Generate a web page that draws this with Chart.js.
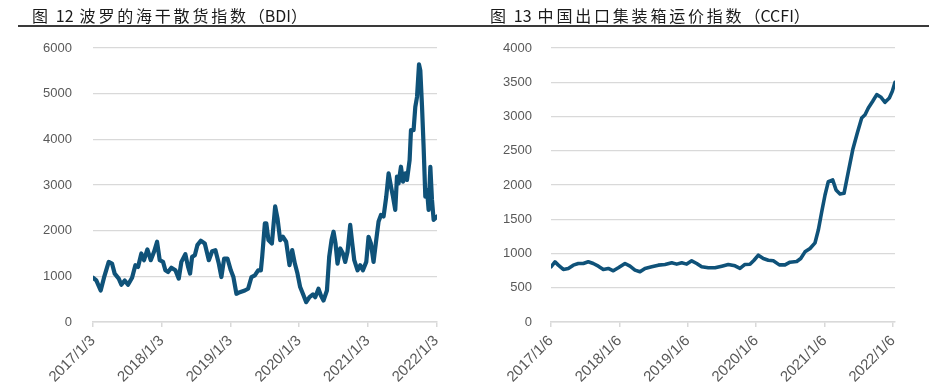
<!DOCTYPE html>
<html><head><meta charset="utf-8">
<script src="https://cdn.jsdelivr.net/npm/chart.js@4.4.0/dist/chart.umd.min.js"></script>
<style>
html,body{margin:0;padding:0;background:#fff;width:929px;height:389px;overflow:hidden;}
.wrap{position:absolute;top:0;height:389px;}
.title{position:absolute;top:3px;font-family:"Noto Sans CJK SC";font-size:16px;color:#1a1a1a;white-space:nowrap;z-index:2;}
.title .cj{letter-spacing:2.8px;}
.title .num{margin:0 6px 0 5px;}
.rule{position:absolute;top:25px;left:18px;width:911px;height:2px;background:#3a3a3a;z-index:2;}
</style></head><body>
<div class="title" style="left:32px"><span class="cj">图</span><span class="num">12</span><span class="cj">波罗的海干散货指数</span>（BDI）</div>
<div class="title" style="left:490px"><span class="cj">图</span><span class="num">13</span><span class="cj">中国出口集装箱运价指数</span>（CCFI）</div>
<div class="rule"></div>
<div class="wrap" style="left:0;width:465px"><canvas id="c1"></canvas></div>
<div class="wrap" style="left:465px;width:464px"><canvas id="c2"></canvas></div>
<script>
// ---- data (x = years elapsed since first tick date) ----
const bdiTickLabels = ["2017/1/3","2018/1/3","2019/1/3","2020/1/3","2021/1/3","2022/1/3"];
const ccfiTickLabels = ["2017/1/6","2018/1/6","2019/1/6","2020/1/6","2021/1/6","2022/1/6"];
const tickYears = [0,1,2,3,4,5];

const bdiYears = [0.000,0.048,0.112,0.160,0.229,0.277,0.316,0.375,0.413,0.462,0.510,0.569,0.617,0.656,0.704,0.743,0.792,0.841,0.889,0.933,0.972,
1.020,1.054,1.093,1.141,1.200,1.249,1.287,1.345,1.385,1.414,1.443,1.483,1.520,1.570,1.628,1.687,1.735,1.783,1.832,1.870,1.910,1.958,
2.007,2.045,2.089,2.138,2.211,2.259,2.308,2.357,2.405,2.445,2.464,2.503,2.524,2.555,2.605,2.653,2.687,2.726,2.765,2.813,2.862,2.901,2.940,2.978,
3.017,3.057,3.105,3.153,3.203,3.236,3.284,3.319,3.357,3.407,3.440,3.474,3.503,3.532,3.561,3.601,3.640,3.673,3.707,3.746,3.776,3.805,3.853,3.892,3.931,3.980,
4.013,4.048,4.086,4.125,4.159,4.194,4.232,4.271,4.305,4.340,4.369,4.402,4.427,4.450,4.485,4.515,4.548,4.573,4.611,4.631,4.669,4.694,4.719,4.748,4.767,4.792,4.815,4.840,4.865,4.888,4.913,4.937,4.961,5.010];
const bdiValues = [970,912,690,970,1316,1280,1060,950,816,910,816,970,1243,1206,1500,1353,1590,1353,1537,1757,1353,
1316,1132,1095,1190,1132,950,1316,1485,1206,1060,1426,1463,1683,1779,1720,1353,1551,1573,1280,985,1390,1390,
1132,985,618,654,690,728,985,1022,1132,1132,1426,2160,2160,1794,1720,2530,2270,1794,1867,1757,1243,1573,1280,1060,
765,618,434,544,603,544,728,581,471,690,1426,1794,1978,1720,1280,1610,1500,1316,1537,2125,1720,1353,1132,1243,1132,1316,
1867,1720,1316,1794,2200,2345,2310,2745,3255,2964,2745,2455,3182,3036,3400,3073,3255,3110,3545,4200,4200,4710,4927,5640,5510,4710,3836,2745,2890,2455,3400,2673,2236,2310];

const ccfiYears = [0.000,0.058,0.107,0.180,0.253,0.326,0.399,0.472,0.545,0.618,0.692,0.765,0.838,0.911,0.984,
1.082,1.155,1.228,1.301,1.374,1.472,1.569,1.667,1.765,1.838,1.911,1.984,
2.057,2.130,2.203,2.300,2.398,2.496,2.592,2.690,2.763,2.836,2.909,2.968,
3.031,3.104,3.177,3.250,3.338,3.421,3.494,3.592,3.651,3.713,3.787,3.860,3.908,3.958,
4.006,4.054,4.118,4.167,4.225,4.284,4.347,4.411,4.478,4.542,4.591,4.639,4.703,4.762,4.820,4.883,4.946,4.990,5.029];
const ccfiValues = [806,879,830,767,782,830,854,854,879,854,815,767,782,748,791,
854,815,757,733,782,806,830,840,864,845,864,845,
893,854,806,791,791,815,840,820,782,840,844,902,
976,927,902,893,834,834,873,883,927,1024,1073,1156,1342,1610,
1854,2050,2074,1928,1869,1879,2196,2514,2758,2978,3026,3124,3222,3319,3285,3207,3270,3368,3500];

const LINE = '#0f5279';
const GRID = '#d9d9d9';
const TXT = '#595959';
const YFONT = {family:'"Liberation Sans", Arial, sans-serif', size:13};
const XFONT = {family:'"Liberation Sans", Arial, sans-serif', size:15};

function makeChart(id, xs, ys, labels, yMax, yStep, yWidth, yPad, padRight, lw){
  new Chart(document.getElementById(id), {
    type:'line',
    data:{datasets:[{data: xs.map((x,i)=>({x:x, y:ys[i]})), borderColor:LINE, borderWidth:lw,
      pointRadius:0, tension:0, fill:false, borderJoinStyle:'round', borderCapStyle:'round'}]},
    options:{
      responsive:true, maintainAspectRatio:false, animation:false,
      layout:{padding:{top:48, right:padRight, left:0, bottom:0}},
      plugins:{legend:{display:false}, tooltip:{enabled:false}},
      scales:{
        x:{type:'linear', min:0, max:xs[xs.length-1],
          afterBuildTicks:(s)=>{ s.ticks = tickYears.map(v=>({value:v})); },
          afterFit:(s)=>{ s.height = 67; },
          ticks:{autoSkip:false, minRotation:45, maxRotation:45, color:TXT, font:XFONT, padding:5,
            callback:(v,i)=>labels[i]},
          grid:{drawOnChartArea:false, color:GRID, tickLength:5, lineWidth:1.5},
          border:{display:true, color:GRID, width:1.5}
        },
        y:{min:0, max:yMax,
          afterFit:(s)=>{ s.width = yWidth; },
          ticks:{stepSize:yStep, color:TXT, font:YFONT, padding:yPad, callback:(v)=>String(v)},
          grid:{color:GRID, drawTicks:false, lineWidth:1.3},
          border:{display:false}
        }
      }
    }
  });
}
makeChart('c1', bdiYears, bdiValues, bdiTickLabels, 6000, 1000, 93, 21, 28, 4.2);
makeChart('c2', ccfiYears, ccfiValues, ccfiTickLabels, 4000, 500, 86, 19, 34, 3.6);
</script>
</body></html>
